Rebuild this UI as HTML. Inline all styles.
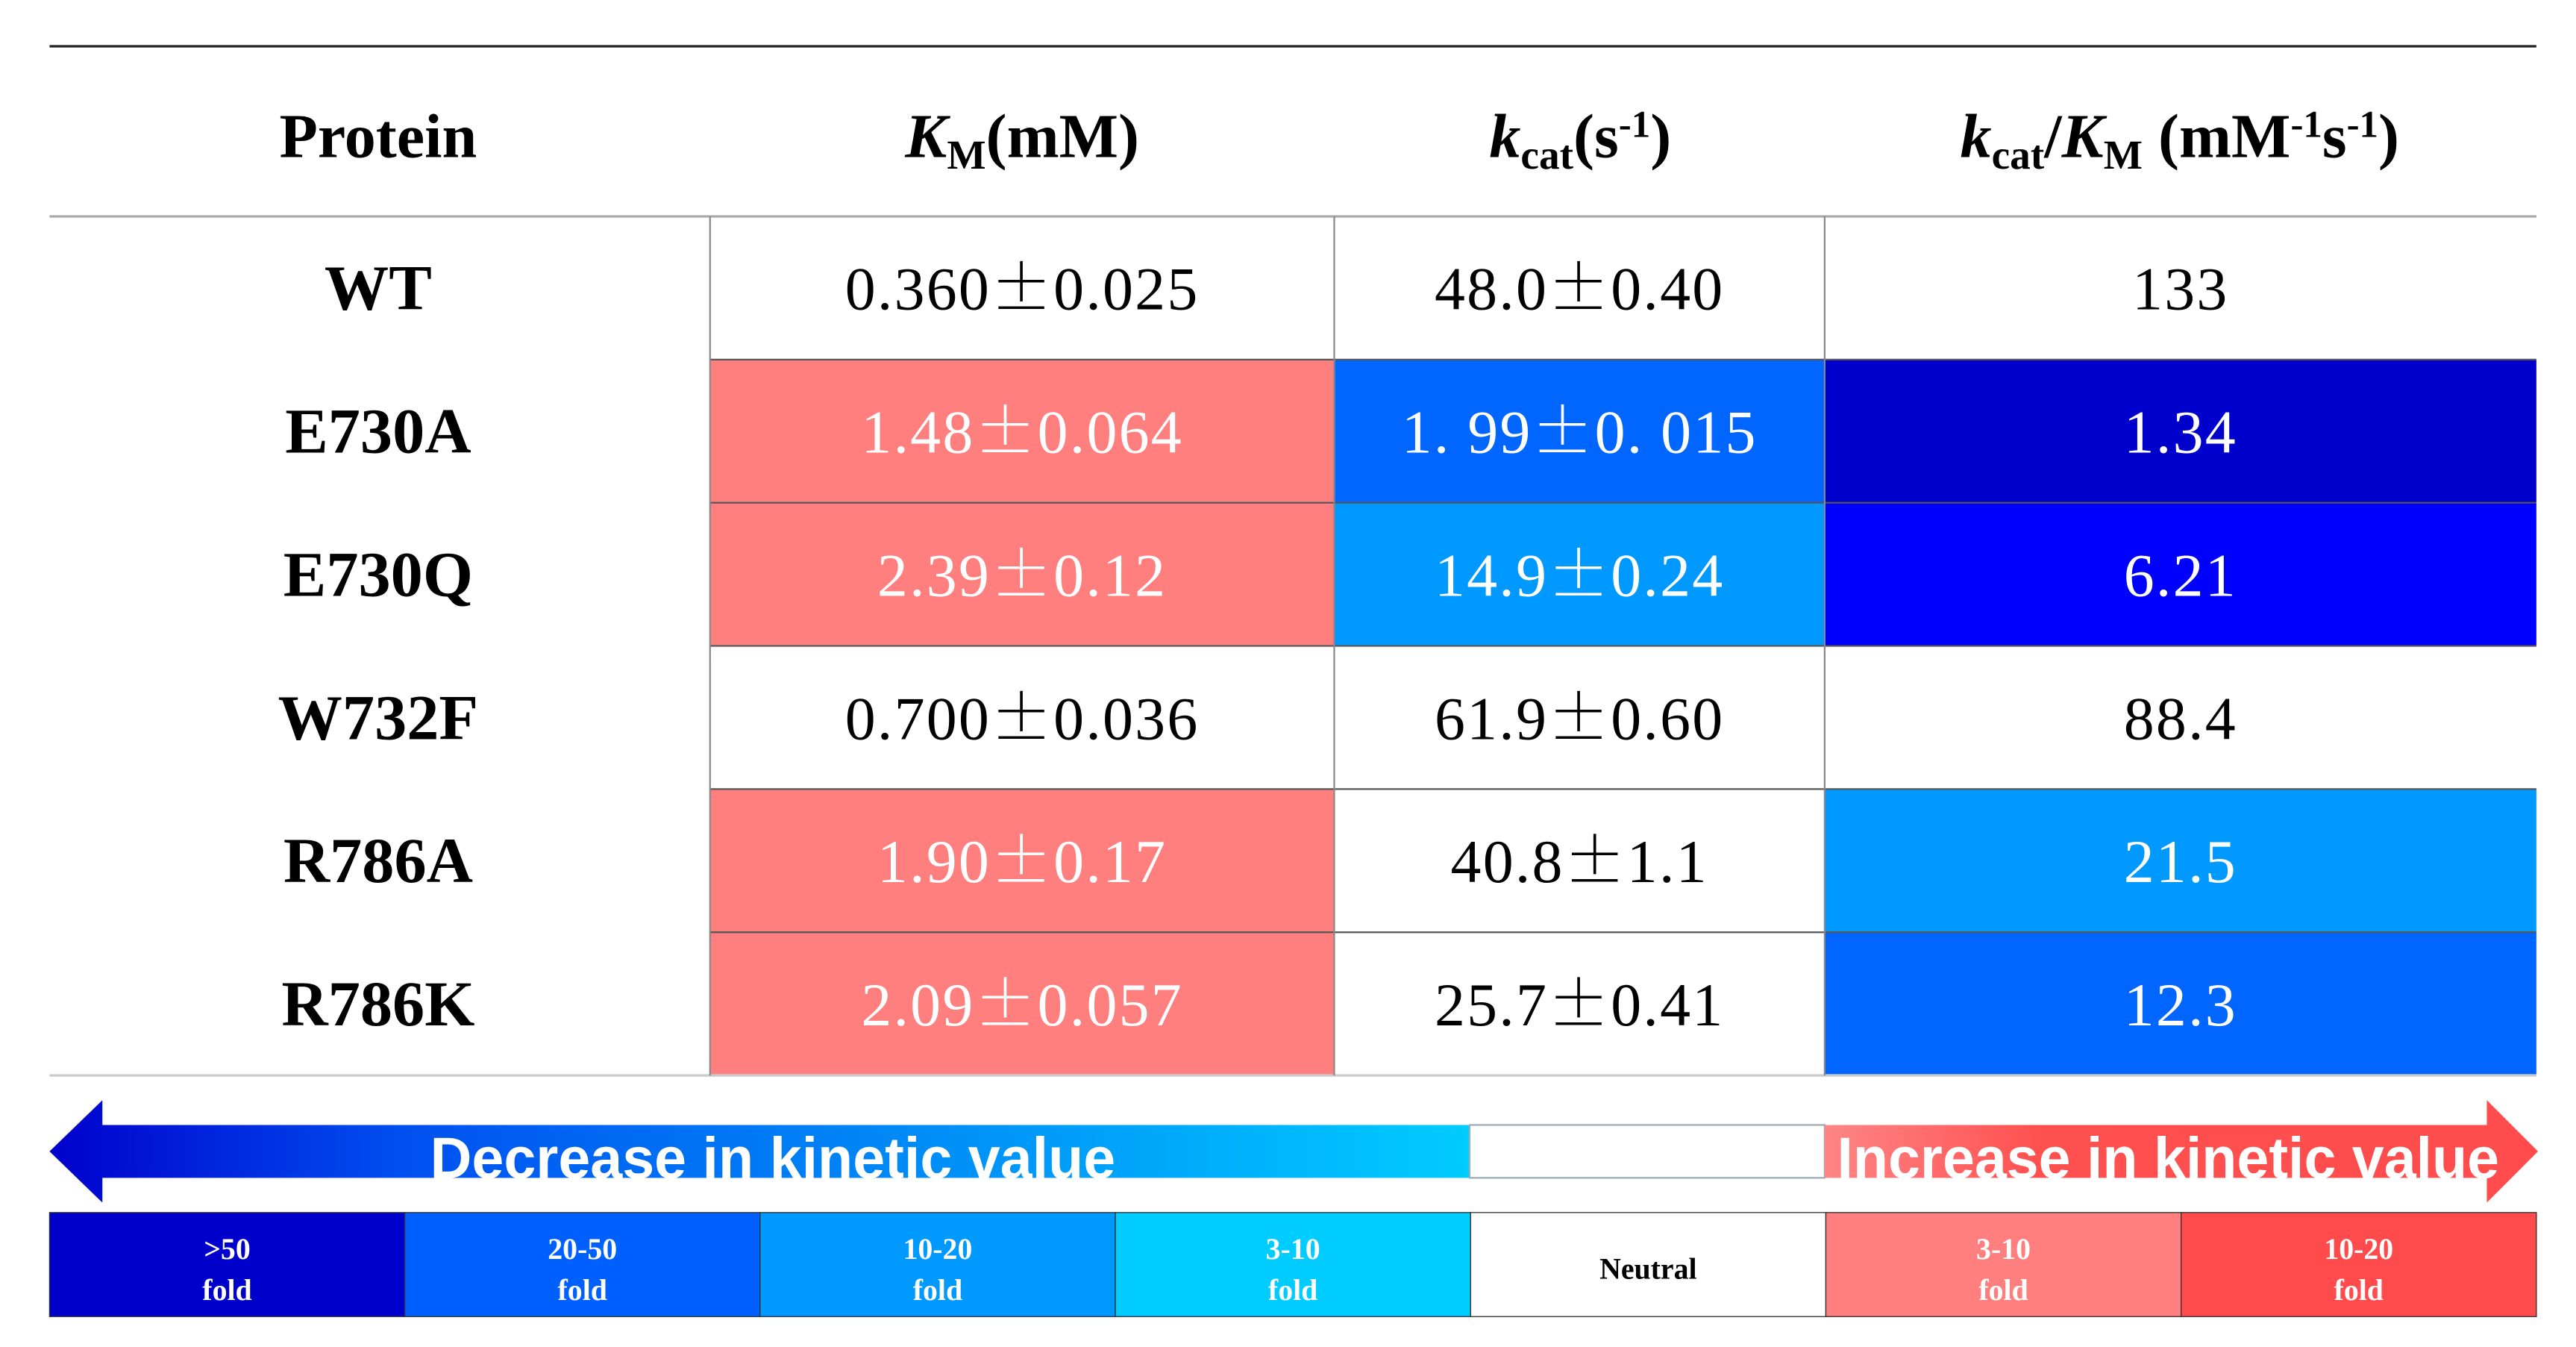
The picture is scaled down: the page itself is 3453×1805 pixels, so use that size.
<!DOCTYPE html>
<html><head><meta charset="utf-8"><style>
html,body{margin:0;padding:0;background:#fff;}
svg{display:block;}
.pm{font-family:"Noto Serif CJK SC","Liberation Serif",serif;}
</style></head><body>
<svg id="tbl" xmlns="http://www.w3.org/2000/svg" width="3453" height="1805" viewBox="0 0 1560 815.4" preserveAspectRatio="none">
<defs>
<linearGradient id="gBlue" x1="0" x2="1" y1="0" y2="0"><stop offset="0" stop-color="#0000CC"/><stop offset="0.25" stop-color="#0050F0"/><stop offset="1" stop-color="#00CCFF"/></linearGradient>
<linearGradient id="gRed" x1="0" x2="1" y1="0" y2="0"><stop offset="0" stop-color="#FF8585"/><stop offset="0.3" stop-color="#FF5050"/><stop offset="1" stop-color="#FF4B4B"/></linearGradient>
</defs>
<g id="cells"></g>
<g id="lines"></g>
<g id="texts"></g>
<g id="legend"></g>
</svg>
<script>
const proteins = ["WT","E730A","E730Q","W732F","R786A","R786K"];
const kmValues = ["0.360\u00B10.025","1.48\u00B10.064","2.39\u00B10.12","0.700\u00B10.036","1.90\u00B10.17","2.09\u00B10.057"];
const kcatValues = ["48.0\u00B10.40","1. 99\u00B10. 015","14.9\u00B10.24","61.9\u00B10.60","40.8\u00B11.1","25.7\u00B10.41"];
const effValues = ["133","1.34","6.21","88.4","21.5","12.3"];
const kmColors = ["#fff","#FF7F7F","#FF7F7F","#fff","#FF7F7F","#FF7F7F"];
const kcatColors = ["#fff","#0066FF","#0099FF","#fff","#fff","#fff"];
const effColors = ["#fff","#0000CC","#0000FF","#fff","#0099FF","#0066FF"];
const legendLabels = [[">50","fold"],["20-50","fold"],["10-20","fold"],["3-10","fold"],["Neutral"],["3-10","fold"],["10-20","fold"]];
const legendColors = ["#0000CC","#0060FF","#0099FF","#00CCFF","#fff","#FF7F7F","#FF4B4B"];

const NS="http://www.w3.org/2000/svg";
function mk(tag,attrs,parent){const e=document.createElementNS(NS,tag);for(const k in attrs)e.setAttribute(k,attrs[k]);parent.appendChild(e);return e;}
const cols=[30,430,808,1105,1536];
const rowTop=131, rowH=86.67;
const rowY=i=>rowTop+i*rowH;
const cellsG=document.getElementById('cells'), linesG=document.getElementById('lines'), textG=document.getElementById('texts'), legG=document.getElementById('legend');
function setVal(el,s){
  const parts=s.split('\u00B1');
  el.textContent='';
  const a=document.createElementNS(NS,'tspan');a.textContent=parts[0];el.appendChild(a);
  if(parts.length>1){
    const b=document.createElementNS(NS,'tspan');b.setAttribute('class','pm');b.textContent='\u00B1';el.appendChild(b);
    const c=document.createElementNS(NS,'tspan');c.textContent=parts[1];el.appendChild(c);
  }
}
const HF=38;
const hx=[229,619,957,1320];
let t;
t=mk('text',{x:hx[0],y:95,'text-anchor':'middle','font-family':'"Liberation Serif",serif','font-weight':'bold','font-size':HF},textG);
t.textContent="Protein";
t=mk('text',{x:hx[1],y:95,'text-anchor':'middle','font-family':'"Liberation Serif",serif','font-weight':'bold','font-size':HF},textG);

t.innerHTML='<tspan font-style="italic">K</tspan><tspan font-size="25" dy="7">M</tspan><tspan dy="-7">(mM)</tspan>';
t=mk('text',{x:hx[2],y:95,'text-anchor':'middle','font-family':'"Liberation Serif",serif','font-weight':'bold','font-size':HF},textG);

t.innerHTML='<tspan font-style="italic">k</tspan><tspan font-size="25" dy="7">cat</tspan><tspan dy="-7">(s</tspan><tspan font-size="23" dy="-12">-1</tspan><tspan dy="12">)</tspan>';
t=mk('text',{x:hx[3],y:95,'text-anchor':'middle','font-family':'"Liberation Serif",serif','font-weight':'bold','font-size':HF},textG);

t.innerHTML='<tspan font-style="italic">k</tspan><tspan font-size="25" dy="7">cat</tspan><tspan dy="-7">/</tspan><tspan font-style="italic">K</tspan><tspan font-size="25" dy="7">M</tspan><tspan dy="-7"> (mM</tspan><tspan font-size="23" dy="-12">-1</tspan><tspan dy="12">s</tspan><tspan font-size="23" dy="-12">-1</tspan><tspan dy="12">)</tspan>';

const colData=[[kmValues,kmColors],[kcatValues,kcatColors],[effValues,effColors]];
proteins.forEach((p,i)=>{
  const y=rowY(i), cy=y+rowH/2+13;
  const lab=mk('text',{x:229,y:cy,'text-anchor':'middle','font-family':'"Liberation Serif",serif','font-weight':'bold','font-size':39},textG);
  
  
  lab.textContent=p;
  colData.forEach(([vals,colors],c)=>{
    const r=mk('rect',{x:cols[c+1],y:y,width:cols[c+2]-cols[c+1],height:rowH,fill:colors[i]},cellsG);
    
    
    const tx=mk('text',{x:(cols[c+1]+cols[c+2])/2,y:cy,'text-anchor':'middle','font-family':'"Liberation Serif",serif','font-size':37,'letter-spacing':1,fill:colors[i]==="#fff"?"#000":"#fff"},textG);
    
    
    setVal(tx,vals[i]);
  });
});
let ln=mk('line',{x1:30,x2:1536,y1:28,y2:28,stroke:'#222','stroke-width':1.5},linesG);

ln=mk('line',{x1:30,x2:1536,y1:131,y2:131,stroke:'#aaa','stroke-width':1.5},linesG);

ln=mk('line',{x1:30,x2:1536,y1:651,y2:651,stroke:'#ccc','stroke-width':1.5},linesG);

for(let i=1;i<proteins.length;i++){
  ln=mk('line',{x1:cols[1],x2:1536,y1:rowY(i),y2:rowY(i),stroke:'#555','stroke-width':1},linesG);
  
}
[cols[1],cols[2],cols[3]].forEach(x=>{
  ln=mk('line',{x1:x,x2:x,y1:131,y2:651,stroke:'#888','stroke-width':1},linesG);
  
});

let a=mk('path',{d:'M30 697 L62 666 L62 681 L890 681 L890 713 L62 713 L62 728 Z',fill:'url(#gBlue)'},legG);

a=mk('rect',{x:890,y:681,width:215,height:32,fill:'#fff',stroke:'#9ab',"stroke-width":1},legG);

a=mk('path',{d:'M1105 681 L1506 681 L1506 666 L1537 697 L1506 728 L1506 713 L1105 713 Z',fill:'url(#gRed)'},legG);

t=mk('text',{x:468,y:713,'text-anchor':'middle','font-family':'"Liberation Sans",sans-serif','font-weight':'bold','font-size':35,fill:'#fff',textLength:415,lengthAdjust:'spacingAndGlyphs'},legG);
t.textContent="Decrease in kinetic value";
t=mk('text',{x:1313,y:713,'text-anchor':'middle','font-family':'"Liberation Sans",sans-serif','font-weight':'bold','font-size':35,fill:'#fff',textLength:401,lengthAdjust:'spacingAndGlyphs'},legG);
t.textContent="Increase in kinetic value";

const lx0=30, lw=(1536-30)/legendColors.length;
legendColors.forEach((c,i)=>{
  const r=mk('rect',{x:lx0+i*lw,y:734,width:lw,height:63,fill:c,stroke:'#333','stroke-width':0.6},legG);
  
  
  const labs=legendLabels[i];
  labs.forEach((s,j)=>{
    const yy=labs.length===1?774:762+j*25;
    const tx=mk('text',{x:lx0+i*lw+lw/2,y:yy,'text-anchor':'middle','font-family':'"Liberation Serif",serif','font-weight':'bold','font-size':18,fill:c==="#fff"?"#000":"#fff"},legG);
    
    
    tx.textContent=s;
  });
});
</script>
</body></html>
